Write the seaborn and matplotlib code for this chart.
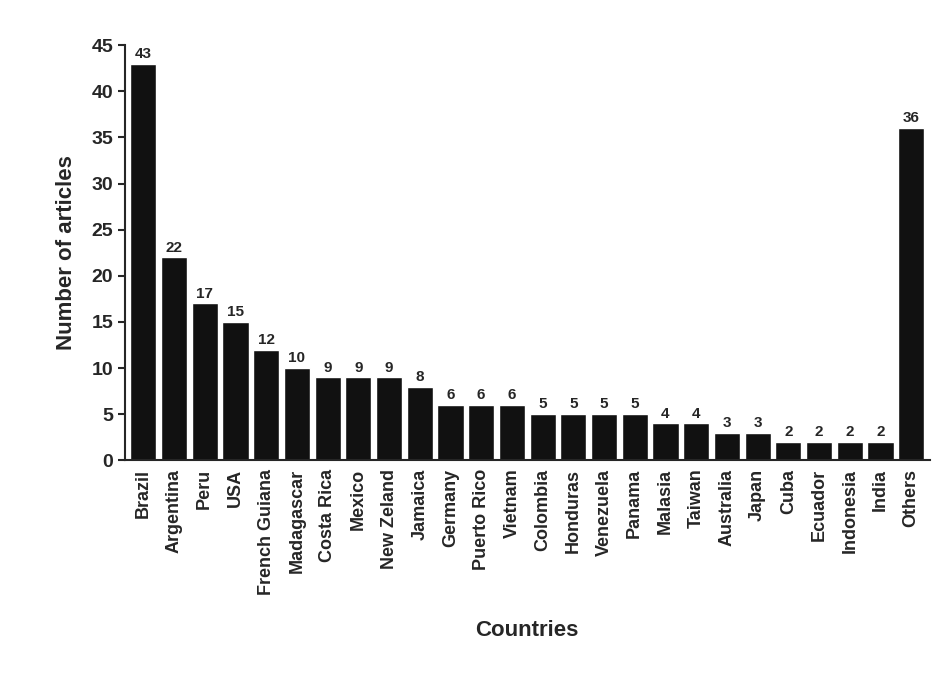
import matplotlib
matplotlib.use("Agg")
import matplotlib.pyplot as plt
import seaborn as sns
import pandas as pd

countries = ["Brazil","Argentina","Peru","USA","French Guiana","Madagascar","Costa Rica","Mexico",
             "New Zeland","Jamaica","Germany","Puerto Rico","Vietnam","Colombia","Honduras","Venezuela",
             "Panama","Malasia","Taiwan","Australia","Japan","Cuba","Ecuador","Indonesia","India","Others"]
articles = [43,22,17,15,12,10,9,9,9,8,6,6,6,5,5,5,5,4,4,3,3,2,2,2,2,36]

sns.set_style("ticks")
plt.rcParams['font.family'] = ['Liberation Sans', 'DejaVu Sans']
df = pd.DataFrame({"Countries": countries, "Number of articles": articles})

fig = plt.figure(figsize=(9.39, 6.84), dpi=100)
ax = fig.add_axes([0.133, 0.327, 0.857, 0.607])
sns.barplot(data=df, x="Countries", y="Number of articles", color="#111111", saturation=1,
            width=0.85, ax=ax)
for i, v in enumerate(articles):
    ax.text(i, v + 0.3, str(v), ha="center", va="bottom", fontsize=11, fontweight="bold")
ax.set_ylim(0, 45)
ax.set_xlim(-0.6, len(countries) - 0.4)
ax.set_yticks(range(0, 46, 5))
ax.tick_params(axis="y", labelsize=14, width=1.5, length=5)
ax.tick_params(axis="x", length=0, labelsize=13, rotation=90, pad=6)
for lbl in ax.get_xticklabels() + ax.get_yticklabels():
    lbl.set_fontweight("bold")
ax.set_xlabel("Countries", fontsize=16, fontweight="bold", labelpad=18)
ax.set_ylabel("Number of articles", fontsize=16, fontweight="bold", labelpad=10)
sns.despine(ax=ax)
for s in ["left", "bottom"]:
    ax.spines[s].set_linewidth(1.5)
fig.savefig("out.png", dpi=100)
